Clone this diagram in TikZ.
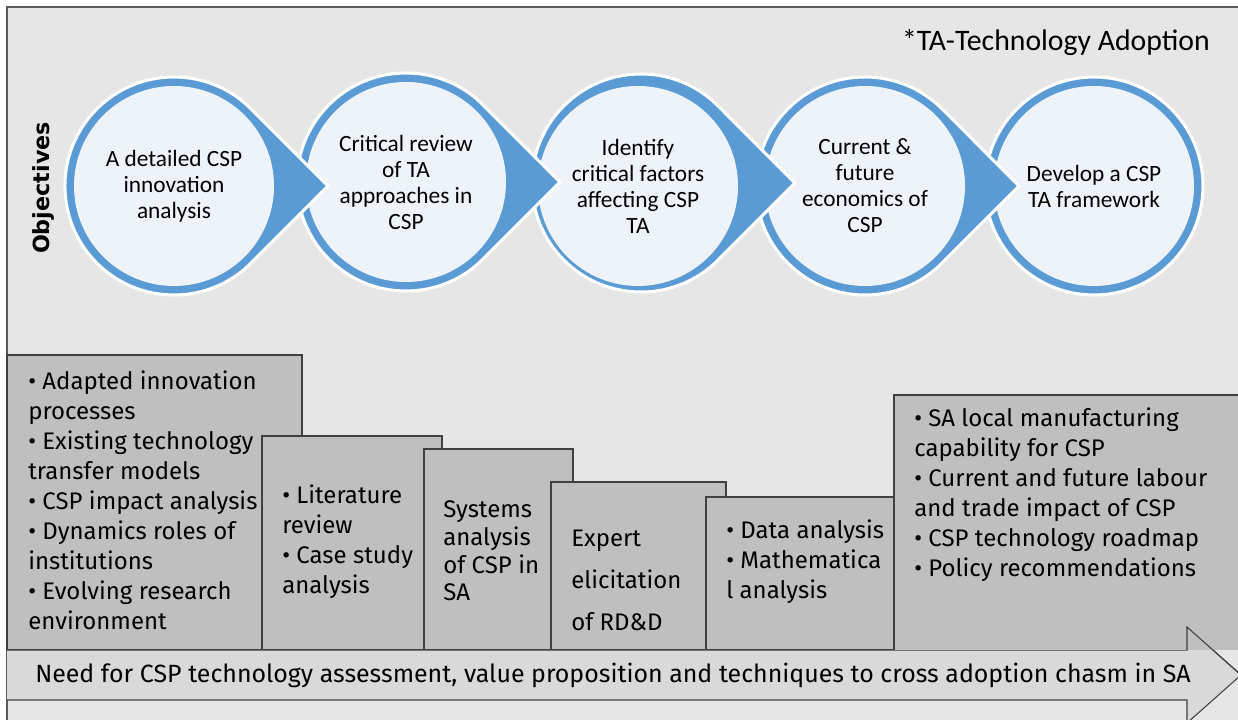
\documentclass[tikz,border=0pt]{standalone}
\usepackage{fontspec}
\setmainfont{Carlito}
\newfontfamily\boxfont{Fira Sans}
\newfontfamily\headfont{DejaVu Sans}
\definecolor{framebg}{RGB}{230,230,230}
\definecolor{frameline}{RGB}{90,90,90}
\definecolor{cspblue}{RGB}{91,155,213}
\definecolor{csplight}{RGB}{238,243,250}
\definecolor{boxgray}{RGB}{191,191,191}
\definecolor{boxline}{RGB}{64,64,64}
\definecolor{arrowgray}{RGB}{217,217,217}
\begin{document}
\begin{tikzpicture}[x=0.75pt,y=-0.75pt,
  drop/.style={fill=cspblue, draw=white, line width=2.25pt},
  goal/.style={circle, fill=csplight, minimum size=150pt, inner sep=0pt,
    align=center, font=\fontsize{17.5}{19.5}\selectfont},
  stage/.style={fill=boxgray, draw=boxline, line width=0.8pt},
  stagetext/.style={anchor=west, align=left, inner sep=0pt,
    font=\boxfont\fontsize{18}{22.5}\selectfont}]
\useasboundingbox (0,0) rectangle (1238,720);
\clip (0,0) rectangle (1238,720);

% frame
\draw[fill=framebg, draw=frameline, line width=1.2pt] (7,7) rectangle (1270,760);

% title and side label
\node[anchor=east, inner sep=0pt, font=\fontsize{22.3}{25}\selectfont] (note) at (1210,43) {*TA-Technology Adoption};
\node[rotate=90, inner sep=0pt, font=\headfont\bfseries\fontsize{16.7}{20}\selectfont] (obj) at (43,188) {Objectives};

% objective chain, drawn right to left so that each pointed drop lies over the next circle
\draw[drop] (1094,186) circle[radius=109];
\node[goal] (o5) at (1094,186) {Develop a CSP\\TA framework};

\draw[drop] (865,186) ++(154.1,0) -- ++(-77.07,77.07) arc[start angle=45,end angle=315,radius=109] -- cycle;
\node[goal] (o4) at (865,186) {Current \&\\future\\economics of\\CSP};

\draw[drop] (641,183) ++(154.1,0) -- ++(-77.07,77.07) arc[start angle=45,end angle=315,radius=109] -- cycle;
\node[goal] (o3) at (638,186) {Identify\\critical factors\\affecting CSP\\TA};

\draw[drop] (406,182) ++(154.1,0) -- ++(-77.07,77.07) arc[start angle=45,end angle=315,radius=109] -- cycle;
\node[goal] (o2) at (406,182) {Critical review\\of TA\\approaches in\\CSP};

\draw[drop] (174,186) ++(154.1,0) -- ++(-77.07,77.07) arc[start angle=45,end angle=315,radius=109] -- cycle;
\node[goal] (o1) at (174,186) {A detailed CSP\\innovation\\analysis};

% method steps
\draw[stage] (7,355) rectangle (302,650);
\node[stagetext] (s1) at (28,500) {• Adapted innovation\\processes\\• Existing technology\\transfer models\\• CSP impact analysis\\• Dynamics roles of\\institutions\\• Evolving research\\environment};

\draw[stage] (262,436) rectangle (442,650);
\node[stagetext] (s2) at (282,542) {• Literature\\review\\• Case study\\analysis};

\draw[stage] (424,449) rectangle (573,650);
\node[stagetext, font=\boxfont\fontsize{18}{20.8}\selectfont] (s3) at (443,551) {Systems\\analysis\\of CSP in\\SA};

\draw[stage] (551,482) rectangle (726,650);
\node[stagetext, font=\boxfont\fontsize{18}{31.5}\selectfont] (s4) at (571,580) {Expert\\elicitation\\of RD\&D};

\draw[stage] (706,497) rectangle (894,650);
\node[stagetext] (s5) at (726,562) {• Data analysis\\• Mathematica\\l analysis};

% need arrow
\draw[fill=arrowgray, draw=boxline, line width=0.8pt]
  (7,650) -- (1187,650) -- (1187,627) -- (1241,675) -- (1187,723) -- (1187,700) -- (7,700);
\fill[boxgray] (894,395) rectangle (1260,650);
\draw[boxline, line width=0.8pt] (894,650) -- (894,395) -- (1260,395);
\draw[boxline, line width=0.8pt] (1187,650) -- (1187,627) -- (1241,675);
\node[stagetext] (s6) at (914,495) {• SA local manufacturing\\capability for CSP\\• Current and future labour\\and trade impact of CSP\\• CSP technology roadmap\\• Policy recommendations};

\node[anchor=west, inner sep=0pt, font=\boxfont\fontsize{18.7}{22}\selectfont] (need) at (35,675) {Need for CSP technology assessment, value proposition and techniques to cross adoption chasm in SA};
\end{tikzpicture}
\end{document}
